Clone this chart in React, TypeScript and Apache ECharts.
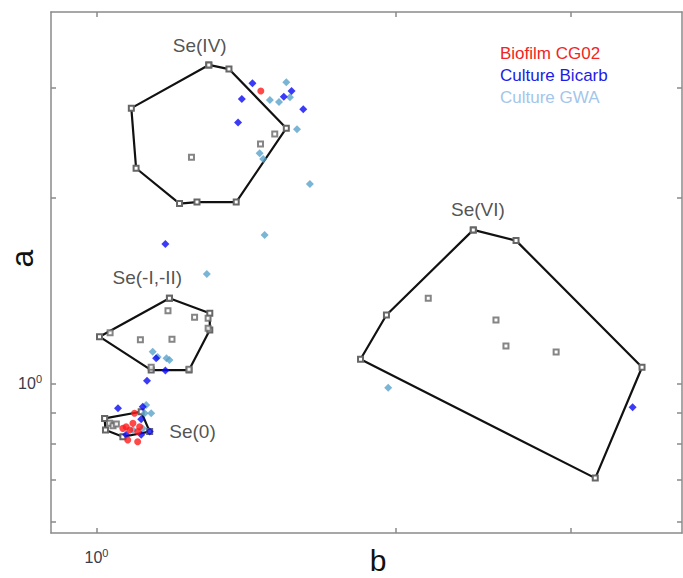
import React, { useEffect, useRef } from "react";
import * as echarts from "echarts";

// axis ranges (data units, both axes logarithmic)
const xRange = [0.9, 3.88];
const yRange = [0.575, 3.98];
const xTickValues = [1, 2, 3];
const yTickValues = [0.6, 0.7, 0.8, 0.9, 1, 2, 3];
const labeledTickValues = [1];

// reference compound hulls (b, a)
const seIVHull = [
  [1.297, 3.27], [1.359, 3.22], [1.552, 2.585], [1.382, 1.965],
  [1.262, 1.965], [1.212, 1.954], [1.096, 2.228], [1.084, 2.785],
];
const seIVInner = [[1.246, 2.321], [1.462, 2.438], [1.511, 2.531]];

const seNegHull = [
  [1.184, 1.375], [1.3, 1.3], [1.3, 1.222], [1.239, 1.053], [1.135, 1.053], [1.007, 1.192],
];
const seNegInner = [
  [1.18, 1.313], [1.255, 1.281], [1.295, 1.276], [1.295, 1.23], [1.032, 1.21],
  [1.107, 1.178], [1.191, 1.181], [1.135, 1.064], [1.239, 1.056],
];

const se0Hull = [[1.019, 0.88], [1.109, 0.902], [1.131, 0.838], [1.063, 0.822], [1.021, 0.843]];
const se0Inner = [[1.031, 0.864], [1.039, 0.856], [1.047, 0.862]];

const seVIHull = [
  [2.393, 1.772], [2.642, 1.703], [3.537, 1.064], [3.174, 0.705], [1.843, 1.096], [1.957, 1.292],
];
const seVIInner = [[2.156, 1.375], [2.522, 1.268], [2.581, 1.151], [2.899, 1.126]];

// samples
const biofilmCG02 = [
  [1.463, 2.969], [1.092, 0.897], [1.088, 0.864], [1.071, 0.853], [1.08, 0.843],
  [1.1, 0.838], [1.075, 0.812], [1.1, 0.807], [1.063, 0.848], [1.105, 0.853],
];
const cultureBicarb = [
  [1.435, 3.055], [1.4, 2.882], [1.388, 2.64], [1.543, 2.906], [1.571, 2.969], [1.614, 2.774],
  [1.173, 1.682], [1.148, 1.1], [1.173, 1.051], [1.124, 1.012], [1.051, 0.914], [1.113, 0.919],
  [1.109, 0.877], [1.131, 0.838], [1.109, 0.828], [1.071, 0.828], [3.461, 0.917],
];
const cultureGWA = [
  [1.552, 3.066], [1.494, 2.871], [1.526, 2.848], [1.565, 2.9], [1.591, 2.575], [1.459, 2.356],
  [1.471, 2.306], [1.639, 2.102], [1.476, 1.739], [1.291, 1.504], [1.139, 1.127], [1.152, 1.105],
  [1.176, 1.1], [1.184, 1.093], [1.118, 0.897], [1.122, 0.925], [1.113, 0.848], [1.088, 0.843],
  [1.135, 0.897], [1.965, 0.986],
];

const regionNames = ["Se(IV)", "Se(-I,-II)", "Se(0)", "Se(VI)"];
const regionLabelPos = [[1.27, 3.52], [1.125, 1.483], [1.249, 0.837], [2.419, 1.908]];

const legendNames = ["Biofilm CG02", "Culture Bicarb", "Culture GWA"];
const legendColors = ["#f22424", "#1c1ce6", "#a3c6ea"];
const pointColors = ["#ff1a1a", "#0a0af5", "#5aa3cb"];

const FONT = "'Liberation Sans', Arial, Helvetica, sans-serif";
const AXIS_COLOR = "#8a8a8a";
const lg = (p: number[]) => [Math.log10(p[0]), Math.log10(p[1])];
const L = (v: number) => Math.log10(v);

export default function App() {
  const ref = useRef<HTMLDivElement>(null);
  useEffect(() => {
    if (!ref.current) return;
    const chart = echarts.init(ref.current, null, { renderer: "svg" });

    const hulls = [
      [seIVHull, seIVInner],
      [seNegHull, seNegInner],
      [se0Hull, se0Inner],
      [seVIHull, seVIInner],
    ];

    const hullSeries: any[] = [];
    hulls.forEach(([hull, inner], i) => {
      hullSeries.push({
        type: "line",
        name: "hull" + i,
        data: hull.concat([hull[0]]).map(lg),
        showSymbol: true,
        symbol: "emptyRect",
        symbolSize: 5,
        lineStyle: { color: "#111", width: 2.2 },
        itemStyle: { color: "#666", borderColor: "#666", borderWidth: 1 },
        z: 2,
        silent: true,
      });
      hullSeries.push({
        type: "scatter",
        name: "inner" + i,
        data: inner.map(lg),
        symbol: "emptyRect",
        symbolSize: 5,
        itemStyle: { color: "#666", borderColor: "#666", borderWidth: 1 },
        z: 2,
        silent: true,
      });
    });

    const groups = [biofilmCG02, cultureBicarb, cultureGWA];
    const pointSeries = groups.map((g, i) => ({
      type: "scatter",
      name: legendNames[i],
      data: g.map(lg),
      symbol: i === 0 ? "circle" : "diamond",
      symbolSize: i === 0 ? 7 : 8,
      itemStyle: { color: pointColors[i] },
      z: 4 - i,
    }));

    const labelSeries = {
      type: "scatter",
      name: "labels",
      symbolSize: 0,
      silent: true,
      data: regionNames.map((n, i) => ({ name: n, value: lg(regionLabelPos[i]) })),
      label: {
        show: true,
        position: "inside",
        formatter: "{b}",
        fontSize: 19,
        fontFamily: FONT,
        color: "#262626",
      },
      z: 6,
    };

    const tickLabel = {
      customValues: labeledTickValues.map(L),
      formatter: () => "{b|10}{s|0}",
      rich: {
        b: { fontSize: 16, lineHeight: 20, color: "#3a3a4c", fontFamily: FONT },
        s: { fontSize: 11, lineHeight: 10, verticalAlign: "top", color: "#3a3a4c", fontFamily: FONT },
      },
    };

    const lineStyle = { color: AXIS_COLOR, width: 1.5 };
    const baseX = {
      type: "value",
      min: L(xRange[0]),
      max: L(xRange[1]),
      axisLine: { show: true, onZero: false, lineStyle },
      axisTick: { show: true, inside: true, length: 5, customValues: xTickValues.map(L), lineStyle },
      splitLine: { show: false },
    };
    const baseY = {
      type: "value",
      min: L(yRange[0]),
      max: L(yRange[1]),
      axisLine: { show: true, onZero: false, lineStyle },
      axisTick: { show: true, inside: true, length: 5, customValues: yTickValues.map(L), lineStyle },
      splitLine: { show: false },
    };

    chart.setOption({
      animation: false,
      grid: { left: 51, right: 1, top: 12, bottom: 45, containLabel: false, outerBoundsMode: "none" },
      xAxis: [
        {
          ...baseX,
          position: "bottom",
          axisLabel: { ...tickLabel, margin: 14 },
          name: "b",
          nameLocation: "middle",
          nameGap: 12,
          nameMoveOverlap: false,
          nameTextStyle: { fontSize: 30, lineHeight: 30, fontFamily: FONT, color: "#111", padding: [0, 0, 0, 23] },
        },
        { ...baseX, position: "top", axisLabel: { show: false } },
      ],
      yAxis: [
        {
          ...baseY,
          position: "left",
          axisLabel: { ...tickLabel, margin: 9 },
          name: "a",
          nameLocation: "middle",
          nameRotate: 90,
          nameGap: 13,
          nameMoveOverlap: false,
          nameTextStyle: { fontSize: 32, fontFamily: FONT, color: "#111", padding: [0, 0, 0, 28] },
        },
        { ...baseY, position: "right", axisLabel: { show: false } },
      ],
      graphic: legendNames.map((n, i) => ({
        type: "text",
        left: 500,
        top: 45 + i * 22,
        style: { text: n, fill: legendColors[i], fontSize: 17, fontFamily: FONT },
        z: 10,
      })),
      series: [...hullSeries, ...pointSeries, labelSeries],
    });
    return () => chart.dispose();
  }, []);
  return (
    <div
      ref={ref}
      style={{ position: "absolute", left: 0, top: 0, width: 683, height: 578, background: "#fff" }}
    />
  );
}
